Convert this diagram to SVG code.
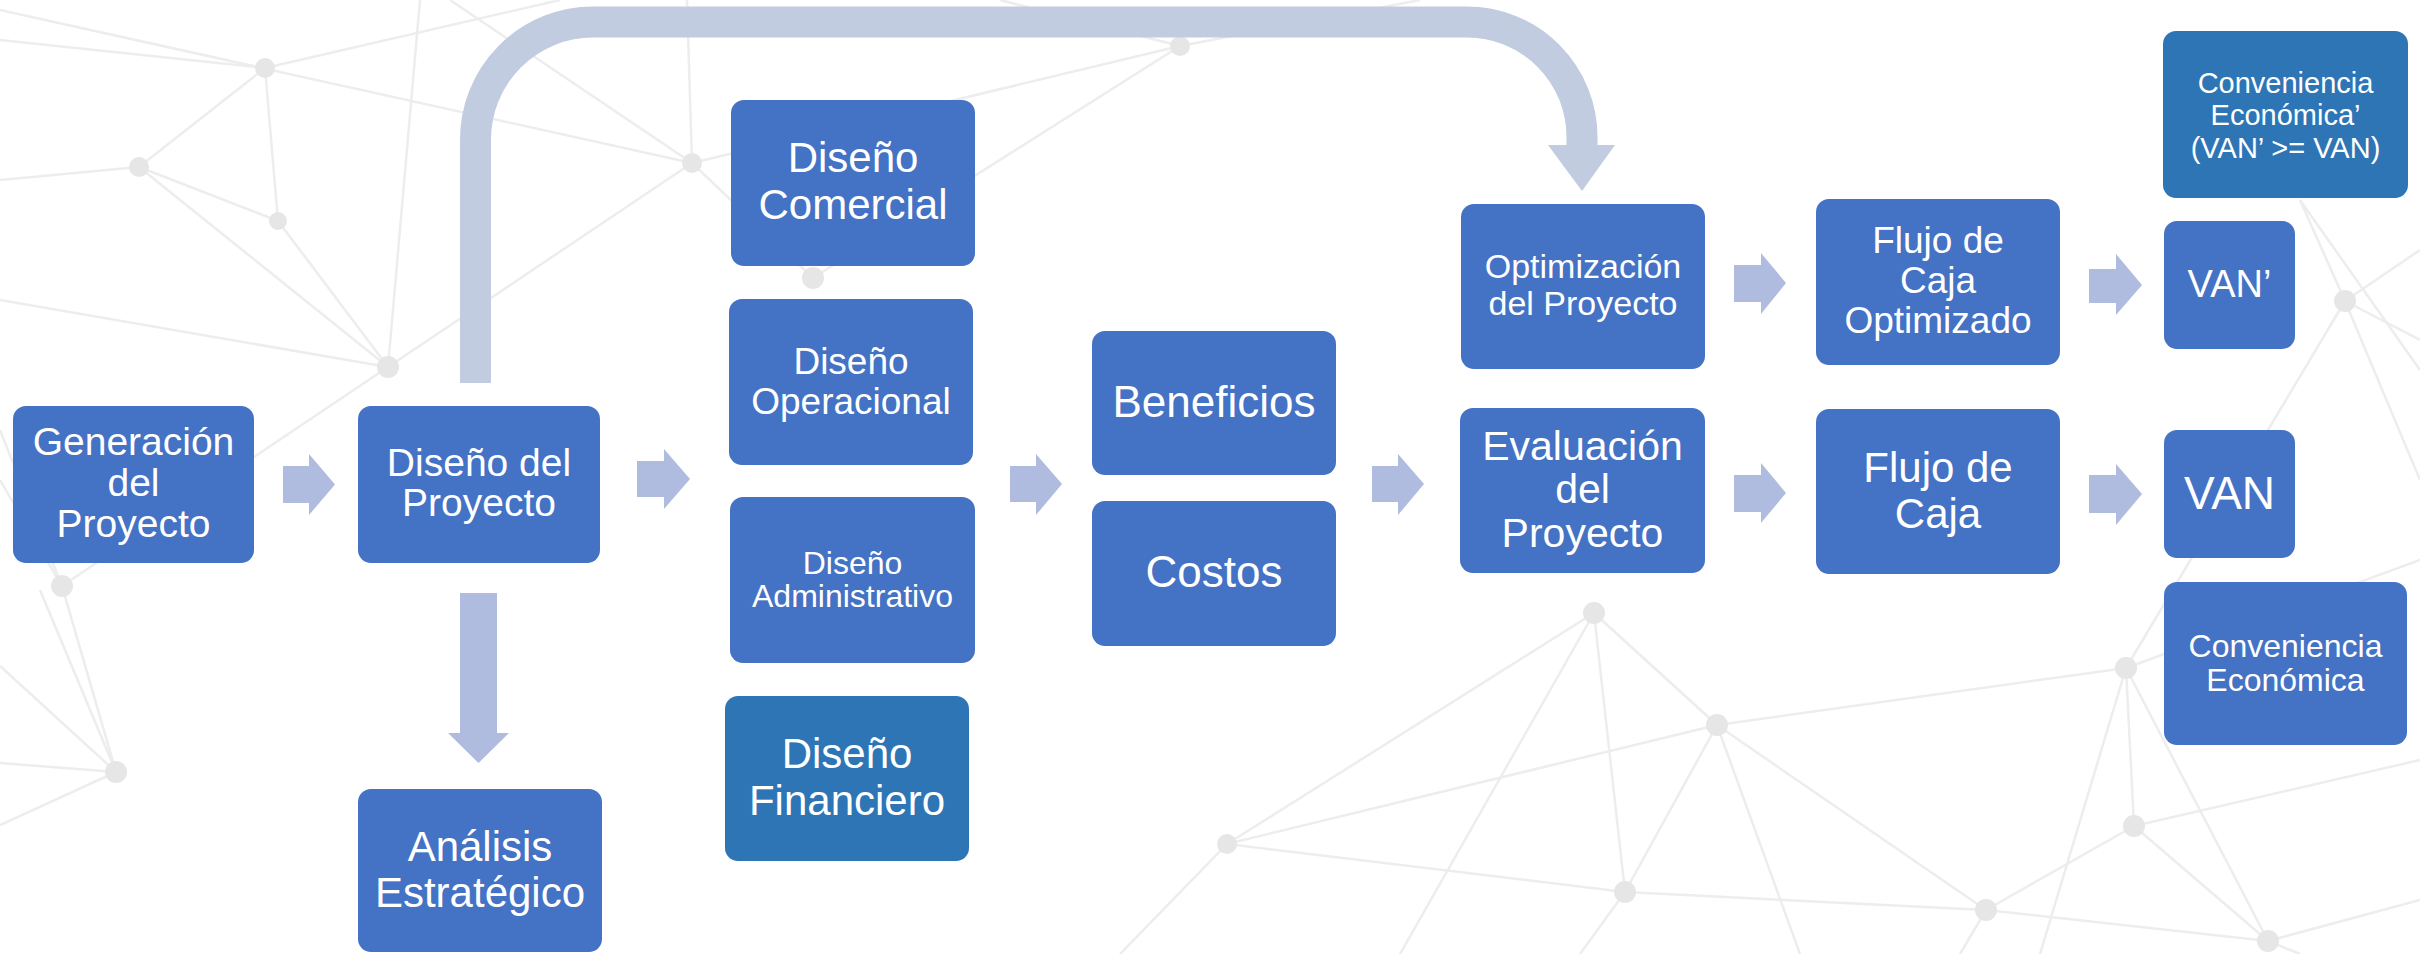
<svg xmlns="http://www.w3.org/2000/svg" width="2420" height="954" viewBox="0 0 2420 954">
<style>
.bg{fill:#ffffff}
.net line{stroke:#ededed;stroke-width:2.5}
.net circle{fill:#e6e6e6}
.box{fill:#4472c4}
.dark{fill:#2e75b6}
.arr{fill:#afbcdf}
.curve{fill:none;stroke:#c1cce1;stroke-width:31}
.curvehead{fill:#c1cce1}
text{font-family:"Liberation Sans",Arial,sans-serif;fill:#ffffff;text-anchor:middle}
</style>
<rect class="bg" x="0" y="0" width="2420" height="954"/>
<g class="net">
<line x1="0" y1="40" x2="265" y2="68"/>
<line x1="265" y1="68" x2="139" y2="167"/>
<line x1="139" y1="167" x2="0" y2="180"/>
<line x1="139" y1="167" x2="278" y2="221"/>
<line x1="265" y1="68" x2="278" y2="221"/>
<line x1="278" y1="221" x2="388" y2="367"/>
<line x1="420" y1="0" x2="388" y2="367"/>
<line x1="0" y1="10" x2="692" y2="163"/>
<line x1="450" y1="0" x2="692" y2="163"/>
<line x1="687" y1="0" x2="692" y2="163"/>
<line x1="388" y1="367" x2="692" y2="163"/>
<line x1="692" y1="163" x2="1180" y2="46"/>
<line x1="692" y1="163" x2="813" y2="278"/>
<line x1="265" y1="68" x2="560" y2="0"/>
<line x1="139" y1="167" x2="388" y2="367"/>
<line x1="0" y1="300" x2="388" y2="367"/>
<line x1="813" y1="278" x2="1180" y2="46"/>
<line x1="1180" y1="46" x2="1420" y2="0"/>
<line x1="1180" y1="46" x2="1000" y2="0"/>
<line x1="388" y1="367" x2="62" y2="586"/>
<line x1="0" y1="430" x2="62" y2="586"/>
<line x1="62" y1="586" x2="116" y2="772"/>
<line x1="40" y1="590" x2="116" y2="772"/>
<line x1="0" y1="666" x2="116" y2="772"/>
<line x1="0" y1="763" x2="116" y2="772"/>
<line x1="116" y1="772" x2="0" y2="825"/>
<line x1="0" y1="480" x2="62" y2="586"/>
<line x1="1594" y1="613" x2="1717" y2="725"/>
<line x1="1594" y1="613" x2="1227" y2="844"/>
<line x1="1594" y1="613" x2="1625" y2="892"/>
<line x1="1717" y1="725" x2="1625" y2="892"/>
<line x1="1717" y1="725" x2="1986" y2="910"/>
<line x1="1717" y1="725" x2="1227" y2="844"/>
<line x1="1227" y1="844" x2="1625" y2="892"/>
<line x1="1625" y1="892" x2="1986" y2="910"/>
<line x1="1986" y1="910" x2="2134" y2="826"/>
<line x1="2134" y1="826" x2="2126" y2="668"/>
<line x1="2126" y1="668" x2="2268" y2="941"/>
<line x1="2134" y1="826" x2="2268" y2="941"/>
<line x1="1986" y1="910" x2="2268" y2="941"/>
<line x1="2126" y1="668" x2="2345" y2="301"/>
<line x1="2345" y1="301" x2="2420" y2="340"/>
<line x1="2345" y1="301" x2="2420" y2="250"/>
<line x1="2345" y1="301" x2="2300" y2="200"/>
<line x1="2300" y1="200" x2="2420" y2="370"/>
<line x1="2126" y1="668" x2="2420" y2="560"/>
<line x1="2134" y1="826" x2="2420" y2="760"/>
<line x1="1625" y1="892" x2="1580" y2="954"/>
<line x1="1227" y1="844" x2="1120" y2="954"/>
<line x1="1986" y1="910" x2="1960" y2="954"/>
<line x1="2268" y1="941" x2="2420" y2="900"/>
<line x1="1717" y1="725" x2="2126" y2="668"/>
<line x1="1717" y1="725" x2="1800" y2="954"/>
<line x1="2126" y1="668" x2="2040" y2="954"/>
<line x1="2268" y1="941" x2="2300" y2="954"/>
<line x1="2345" y1="301" x2="2420" y2="480"/>
<line x1="1594" y1="613" x2="1400" y2="954"/>
<circle cx="265" cy="68" r="10"/>
<circle cx="139" cy="167" r="10"/>
<circle cx="278" cy="221" r="9"/>
<circle cx="388" cy="367" r="11"/>
<circle cx="692" cy="163" r="10"/>
<circle cx="62" cy="586" r="11"/>
<circle cx="116" cy="772" r="11"/>
<circle cx="813" cy="278" r="11"/>
<circle cx="1180" cy="46" r="10"/>
<circle cx="1594" cy="613" r="11"/>
<circle cx="1717" cy="725" r="11"/>
<circle cx="1227" cy="844" r="10"/>
<circle cx="1625" cy="892" r="11"/>
<circle cx="1986" cy="910" r="11"/>
<circle cx="2134" cy="826" r="11"/>
<circle cx="2126" cy="668" r="11"/>
<circle cx="2268" cy="941" r="11"/>
<circle cx="2345" cy="301" r="11"/>
</g>
<g id="connectors">
<path class="curve" d="M475.5 383 V139.5 A117.5 117.5 0 0 1 593 22 H1467 A115 115 0 0 1 1582 137 V146"/>
<polygon class="curvehead" points="1548,145 1615,145 1582,191"/>
<polygon class="arr" points="283,466 309,466 309,454 335,484.5 309,515 309,503 283,503"/>
<polygon class="arr" points="637,461 664,461 664,449 690,479 664,509 664,497 637,497"/>
<polygon class="arr" points="1010,466 1036,466 1036,454 1062,484 1036,515 1036,502 1010,502"/>
<polygon class="arr" points="1372,466 1398,466 1398,454 1424,484 1398,515 1398,502 1372,502"/>
<polygon class="arr" points="1734,265 1761,265 1761,253 1786,283 1761,314 1761,302 1734,302"/>
<polygon class="arr" points="1734,475 1761,475 1761,463 1786,493 1761,523 1761,512 1734,512"/>
<polygon class="arr" points="2089,269 2116,269 2116,254 2142,285 2116,315 2116,303 2089,303"/>
<polygon class="arr" points="2089,475 2116,475 2116,464 2142,494 2116,525 2116,513 2089,513"/>
<polygon class="arr" points="460,593 497,593 497,733 509,733 478.5,763 448,733 460,733"/>
</g>
<g id="generacion">
<rect class="box" x="13" y="406" width="241" height="157" rx="13"/>
<text font-size="39"><tspan x="133.5" y="455">Generación</tspan><tspan x="133.5" y="496">del</tspan><tspan x="133.5" y="537">Proyecto</tspan></text>
</g>
<g id="diseno-proyecto">
<rect class="box" x="358" y="406" width="242" height="157" rx="13"/>
<text font-size="39"><tspan x="479" y="476">Diseño del</tspan><tspan x="479" y="516">Proyecto</tspan></text>
</g>
<g id="analisis">
<rect class="box" x="358" y="789" width="244" height="163" rx="13"/>
<text font-size="42"><tspan x="480" y="861">Análisis</tspan><tspan x="480" y="907">Estratégico</tspan></text>
</g>
<g id="comercial">
<rect class="box" x="731" y="100" width="244" height="166" rx="13"/>
<text font-size="42"><tspan x="853" y="172">Diseño</tspan><tspan x="853" y="219">Comercial</tspan></text>
</g>
<g id="operacional">
<rect class="box" x="729" y="299" width="244" height="166" rx="13"/>
<text font-size="37"><tspan x="851" y="374">Diseño</tspan><tspan x="851" y="414">Operacional</tspan></text>
</g>
<g id="administrativo">
<rect class="box" x="730" y="497" width="245" height="166" rx="13"/>
<text font-size="32"><tspan x="852.5" y="574">Diseño</tspan><tspan x="852.5" y="607">Administrativo</tspan></text>
</g>
<g id="financiero">
<rect class="dark" x="725" y="696" width="244" height="165" rx="13"/>
<text font-size="42"><tspan x="847" y="768">Diseño</tspan><tspan x="847" y="815">Financiero</tspan></text>
</g>
<g id="beneficios">
<rect class="box" x="1092" y="331" width="244" height="144" rx="13"/>
<text font-size="44" x="1214" y="417">Beneficios</text>
</g>
<g id="costos">
<rect class="box" x="1092" y="501" width="244" height="145" rx="13"/>
<text font-size="44" x="1214" y="587">Costos</text>
</g>
<g id="optimizacion">
<rect class="box" x="1461" y="204" width="244" height="165" rx="13"/>
<text font-size="34"><tspan x="1583" y="278">Optimización</tspan><tspan x="1583" y="315">del Proyecto</tspan></text>
</g>
<g id="evaluacion">
<rect class="box" x="1460" y="408" width="245" height="165" rx="13"/>
<text font-size="41"><tspan x="1582.5" y="460">Evaluación</tspan><tspan x="1582.5" y="503">del</tspan><tspan x="1582.5" y="547">Proyecto</tspan></text>
</g>
<g id="flujo-optimizado">
<rect class="box" x="1816" y="199" width="244" height="166" rx="13"/>
<text font-size="37"><tspan x="1938" y="253">Flujo de</tspan><tspan x="1938" y="293">Caja</tspan><tspan x="1938" y="333">Optimizado</tspan></text>
</g>
<g id="flujo-caja">
<rect class="box" x="1816" y="409" width="244" height="165" rx="13"/>
<text font-size="42"><tspan x="1938" y="482">Flujo de</tspan><tspan x="1938" y="528">Caja</tspan></text>
</g>
<g id="conveniencia-prima">
<rect class="dark" x="2163" y="31" width="245" height="167" rx="13"/>
<text font-size="29"><tspan x="2285.5" y="93">Conveniencia</tspan><tspan x="2285.5" y="125">Económica’</tspan><tspan x="2285.5" y="158">(VAN’ &gt;= VAN)</tspan></text>
</g>
<g id="van-prima">
<rect class="box" x="2164" y="221" width="131" height="128" rx="13"/>
<text font-size="38" x="2229.5" y="297">VAN’</text>
</g>
<g id="van">
<rect class="box" x="2164" y="430" width="131" height="128" rx="13"/>
<text font-size="46" x="2229.5" y="509">VAN</text>
</g>
<g id="conveniencia">
<rect class="box" x="2164" y="582" width="243" height="163" rx="13"/>
<text font-size="32"><tspan x="2285.5" y="657">Conveniencia</tspan><tspan x="2285.5" y="691">Económica</tspan></text>
</g>
</svg>
